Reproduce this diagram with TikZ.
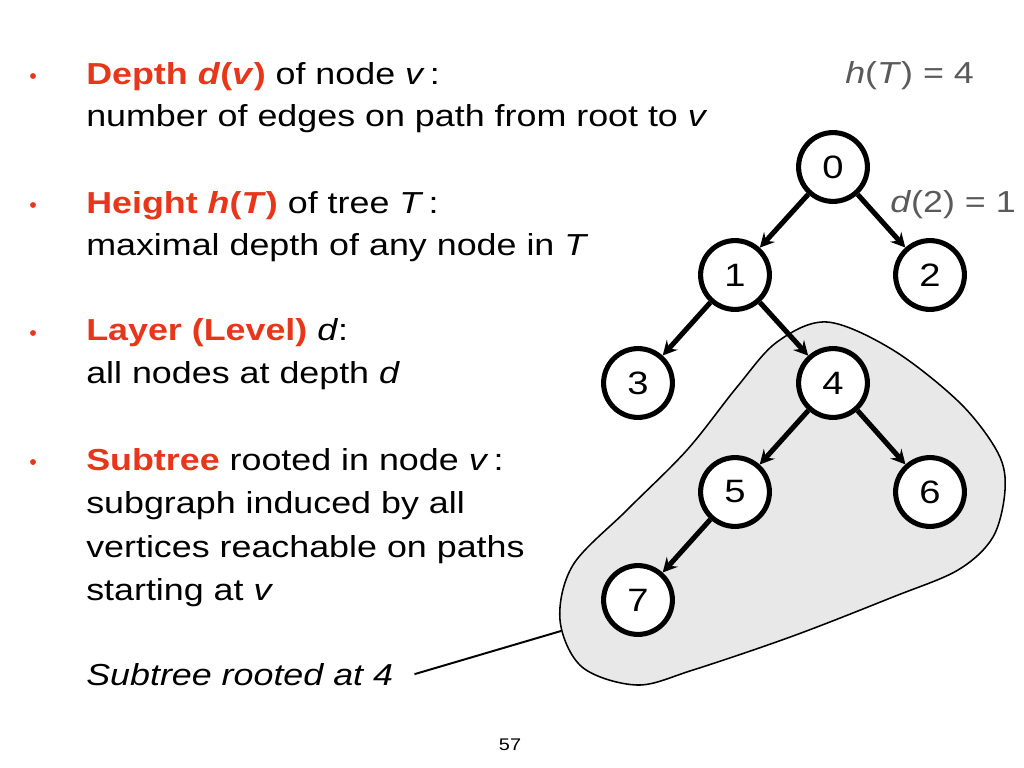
\documentclass[tikz,border=0pt]{standalone}
\usepackage{fontspec}
\setmainfont{Liberation Sans}[FakeStretch=1.18]
\usetikzlibrary{arrows.meta,positioning}
\definecolor{hilite}{HTML}{E8361A}
\definecolor{note}{HTML}{5A5A5A}
\definecolor{subFill}{HTML}{E8E8E8}
\tikzset{
  % --- text lines ---------------------------------------------------------
  txt/.style     = {font=\fontsize{21.6pt}{30pt}\selectfont, anchor=base west,
                    inner sep=0pt, text=black},
  notelbl/.style = {txt, text=note},
  bullet/.style  = {fill=hilite},
  % --- tree ---------------------------------------------------------------
  vert/.style    = {circle, draw=black, fill=white, line width=3.6pt,
                    minimum size=1.72cm, inner sep=0pt,
                    font=\fontsize{23pt}{26pt}\selectfont},
  tedge/.style   = {draw=black, line width=3.6pt,
                    -{Stealth[length=3.6mm,width=3.7mm,inset=1.3mm]}},
  subtree/.style = {draw=black, fill=subFill, line width=1.1pt},
  pointer/.style = {draw=black, line width=1.4pt},
}
\newcommand{\hl}[1]{\textcolor{hilite}{\textbf{#1}}}

\begin{document}
\begin{tikzpicture}[x=0.025cm, y=-0.025cm]
\useasboundingbox (0,0) rectangle (1024,768);

% ============================ definitions ==================================
\foreach \by in {76,205,333,462}{ \fill[bullet] (33,\by) circle (2.1pt); }

\node[txt] (depth1) at (86,85)  {\hl{Depth \textit{d}(\textit{v})} of node \textit{v}\,:};
\node[txt] (depth2) at (86,127) {number of edges on path from root to \textit{v}};

\node[txt] (height1) at (86,213) {\hl{Height \textit{h}(\textit{T})} of tree \textit{T}\,:};
\node[txt] (height2) at (86,255) {maximal depth of any node in \textit{T}};

\node[txt] (layer1) at (86,340) {\hl{Layer (Level)} \textit{d}:};
\node[txt] (layer2) at (86,383) {all nodes at depth \textit{d}};

\node[txt] (sub1) at (86,470) {\hl{Subtree} rooted in node \textit{v}\,:};
\node[txt] (sub2) at (86,513) {subgraph induced by all};
\node[txt] (sub3) at (86,557) {vertices reachable on paths};
\node[txt] (sub4) at (86,600) {starting at \textit{v}};

\node[txt, font=\itshape\fontsize{21.6pt}{30pt}\selectfont] (sublbl) at (86,685)
     {Subtree rooted at 4};

\node[notelbl] (hT) at (845,84)  {\textit{h}(\textit{T}) = 4};
\node[notelbl] (d2) at (890,212) {\textit{d}(2) = 1};

% ============================ subtree blob =================================
\draw[subtree] plot[smooth cycle, tension=0.55] coordinates {
  (827,322) (893,350) (960,403) (998,453) (1005,490) (993,537) (958,570)
  (893,597) (793,636) (693,670) (637,685) (582,667) (560,620) (573,565)
  (627,510) (687,450) (737,387) (777,342)};
\coordinate (blobw) at (561,631);

% ================================ tree =====================================
\node[vert] (n0) at (833,167) {0};
\node[vert] (n1) at (735,275) {1};
\node[vert] (n2) at (930,275) {2};
\node[vert] (n3) at (638,383) {3};
\node[vert] (n4) at (833,383) {4};
\node[vert] (n5) at (735,492) {5};
\node[vert] (n6) at (930,492) {6};
\node[vert] (n7) at (638,600) {7};

\foreach \a/\b in {n0/n1,n0/n2,n1/n3,n1/n4,n4/n5,n4/n6,n5/n7}{
  \draw[tedge] (\a) -- (\b);
}

% pointer from the caption to the blob
\draw[pointer] ([xshift=15]sublbl.east) -- (blobw);

% ============================ page number ==================================
\node[font=\fontsize{12pt}{14pt}\selectfont, inner sep=0pt] (pageno) at (510,745) {57};

\end{tikzpicture}
\end{document}
